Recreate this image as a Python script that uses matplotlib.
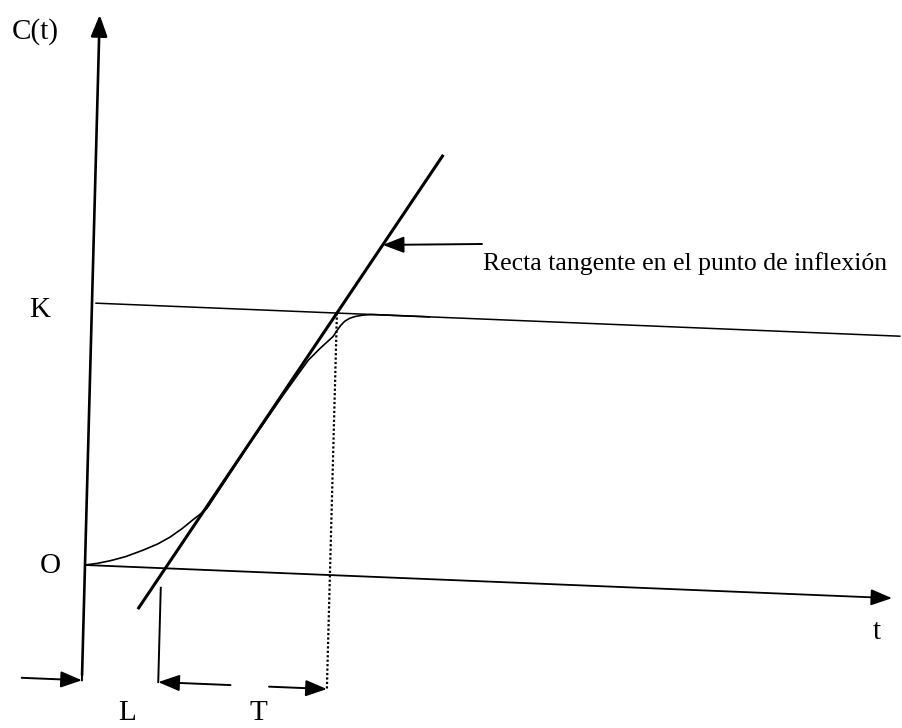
import matplotlib
matplotlib.use("Agg")
import matplotlib.pyplot as plt
from matplotlib.patches import FancyArrowPatch
from matplotlib.transforms import Affine2D

# Step response C(t) (normalised so K = 1)
curve_t = [0.0, 0.15, 0.31, 0.50, 0.72, 0.90, 1.05, 1.20, 1.33, 1.42, 1.50,
           2.0, 2.4, 2.71, 2.85, 2.95, 3.01, 3.05, 3.10, 3.15, 3.21, 3.28,
           3.37, 3.45, 3.50, 4.2]
curve_c = [0.0, 0.008, 0.02, 0.038, 0.066, 0.092, 0.12, 0.155, 0.19, 0.213, 0.236,
           0.485, 0.675, 0.816, 0.862, 0.892, 0.910, 0.930, 0.953, 0.970, 0.982, 0.990,
           0.996, 0.999, 1.0, 1.0]

K = 1.0
L = 1.0          # dead time (tangent meets the t axis)
T = 2.05         # time constant (tangent reaches K at L + T)
tangent_c = [-0.16, 1.62]

t_max = 10.05
c_max = 2.10
c_low = -0.42
dim_c = -0.435   # height of the L / T dimension arrows

labels = {"C(t)": (35, 32), "K": (40, 310), "O": (50, 566),
          "t": (877, 632), "L": (127, 713), "T": (258, 713)}
note = "Recta tangente en el punto de inflexión"

fig = plt.figure(figsize=(9.03, 7.28), dpi=100)
ax = fig.add_axes([0, 0, 1, 1])
ax.set_xlim(0, 903)
ax.set_ylim(728, 0)
ax.axis("off")

# the sketch is drawn slightly skewed on the page
skew = Affine2D().from_values(80.3, 3.3, 7.0, -262.0, 85.0, 565.0) + ax.transData

def arrow(p0, p1, lw=1.5, head=True):
    style = "-|>,head_length=1.3,head_width=0.5" if head else "-"
    a = FancyArrowPatch(p0, p1, arrowstyle=style, mutation_scale=10,
                        color="black", lw=lw, shrinkA=0, shrinkB=0,
                        transform=skew)
    ax.add_patch(a)

# axes
arrow((0, c_low), (0, c_max), lw=1.9)
arrow((0, 0), (t_max, 0), lw=1.3)

# steady-state value K
ax.plot([0.05, 10.06], [K, K], color="black", lw=1.1, transform=skew)

# response curve
ax.plot(curve_t, curve_c, color="black", lw=1.2, transform=skew)

# tangent at the inflection point
tan_t = [L + T * c for c in tangent_c]
ax.plot(tan_t, tangent_c, color="black", lw=2.2, solid_capstyle="butt", transform=skew)

# dotted drop from the tangent/K crossing
ax.plot([L + T, L + T], [K, dim_c], color="black", lw=1.6,
        linestyle=(0, (1, 1)), transform=skew)

# L marker line
ax.plot([0.95, 0.95], [-0.075, dim_c], color="black", lw=1.4, transform=skew)
ax.plot([0.0, 0.0], [c_low, -0.44], color="black", lw=1.4, transform=skew)

# dimension arrows
arrow((-0.75, -0.44), (0.0, -0.44), lw=1.4)
arrow((1.85, dim_c), (0.95, dim_c), lw=1.4)
arrow((2.33, dim_c), (L + T, dim_c), lw=1.4)

# annotation for the tangent line
c_note = 1.267
ax.annotate("", xy=(L + T * c_note, c_note), xycoords=skew,
            xytext=(482, 244), textcoords="data",
            arrowprops=dict(arrowstyle="-|>,head_length=1.3,head_width=0.5",
                            mutation_scale=10, color="black", lw=1.4,
                            shrinkA=0, shrinkB=0))
ax.text(483, 264, note, fontsize=18.5, family="Liberation Serif",
        ha="left", va="center")

for txt, (x, y) in labels.items():
    ax.text(x, y, txt, fontsize=21, family="Liberation Serif",
            ha="center", va="center")

fig.savefig("out.png", dpi=100, facecolor="white")
